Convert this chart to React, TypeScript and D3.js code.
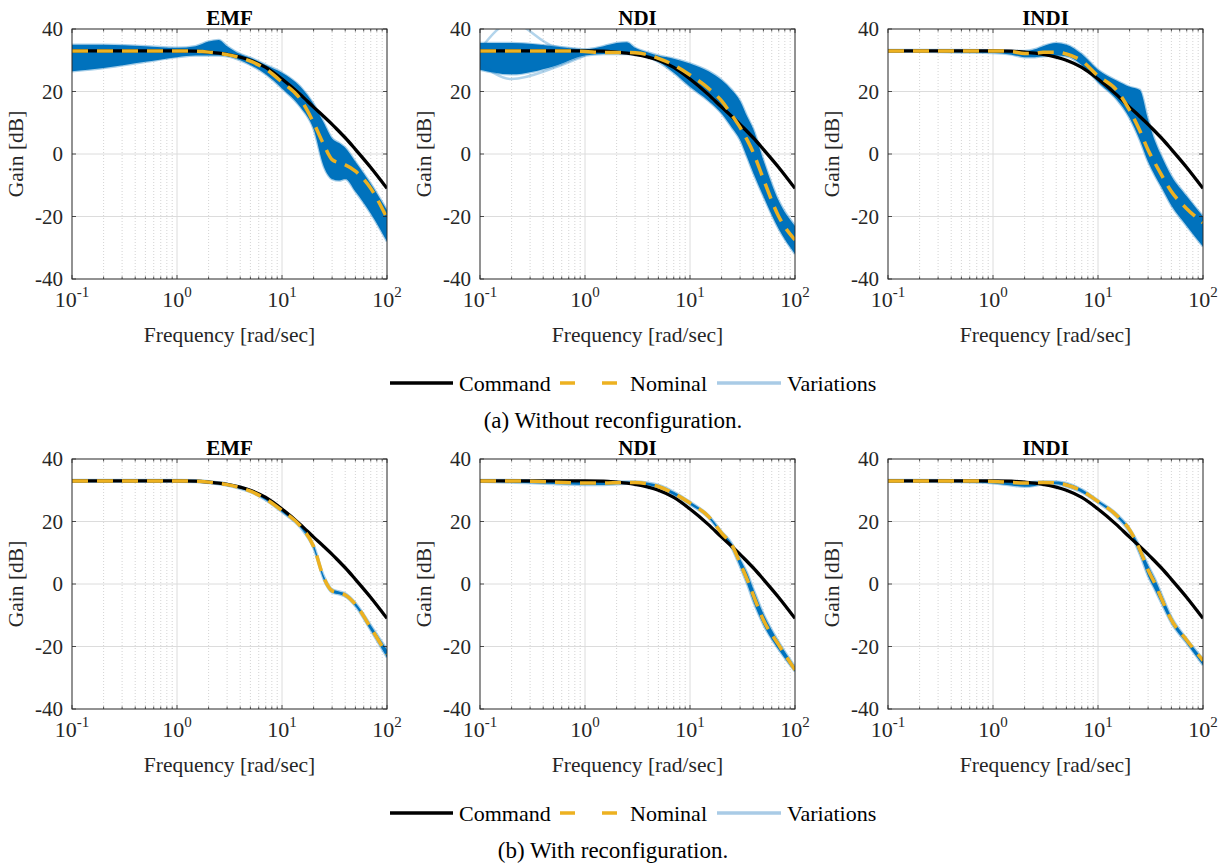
import React, { useEffect, useRef } from 'react';
import * as d3 from 'd3';

// frequency grid [rad/sec] shared by every curve
const freqs = [0.1, 0.2, 0.5, 1, 1.5, 2, 2.5, 3, 4, 5, 7, 10, 15, 20, 25, 30, 35, 40, 50, 70, 100];

// command model (same in all panels)
const command = [33, 33, 33, 33, 32.9, 32.6, 32.3, 31.9, 31, 30, 27.7, 24, 19, 15, 12, 9.5, 7.2, 5.2, 1.5, -4.3, -11];

// (a) without reconfiguration
const emfNomA = [33, 33, 33, 33, 32.9, 32.6, 32.2, 31.8, 30.8, 29.7, 27.2, 23, 17.5, 10, 3, -1.8, -2.8, -3.5, -5.5, -11, -20.5];
const emfHiA = [35, 35, 34.5, 34, 34.5, 36, 36.5, 34.5, 32, 30.8, 28.5, 26, 21.5, 16, 10, 5, 3.5, 2, -2.5, -9.5, -18];
const emfLoA = [26.5, 27.5, 29.5, 31, 31.5, 31.5, 31.5, 31.3, 30, 28.5, 25.5, 21, 15, 8, -4, -8, -8.5, -8, -12, -19, -28];

const ndiNomA = [33, 33, 33, 32.8, 32.5, 32.5, 32.5, 32.4, 31.7, 30.6, 28.5, 25.3, 21, 17, 12.5, 8.5, 4.5, 0.5, -8, -20, -27.5];
const ndiHiA = [35.5, 35.5, 34.5, 33.5, 34.5, 35.5, 35.8, 34, 32.5, 31.5, 30.5, 29, 26.5, 23.7, 20.5, 17, 12, 8, -2, -15, -23];
const ndiLoA = [27, 25.5, 28, 31.5, 32, 32, 32, 31.8, 31, 29.5, 26, 21.5, 17, 13, 8.5, 4.5, -1, -6, -13.5, -24, -32];
const ndiOutHiA = [33.5, 42, 34.5, 33.2];
const ndiOutLoA = [29, 24, 27.5, 31.5];

const indiNomA = [33, 33, 33, 33, 32.8, 32.2, 32.2, 32.6, 32.6, 32, 29.8, 25, 20.5, 14, 7.5, 1.3, -3, -6.5, -12, -17.5, -22];
const indiHiA = [33.3, 33.3, 33.3, 33.2, 33, 33, 33.5, 34.5, 35.5, 35, 32, 27, 23.5, 21.5, 20.5, 11, 4, -0.5, -7, -13.5, -20];
const indiLoA = [32.7, 32.7, 32.5, 32.3, 31.8, 31, 31, 31.3, 31.5, 31.3, 28.5, 23, 17.5, 11.5, 4.5, -2.5, -7, -10.5, -16.5, -23, -29.6];

// (b) with reconfiguration
const emfNomB = [33, 33, 33, 33, 32.9, 32.6, 32.2, 31.8, 30.8, 29.7, 27.2, 23.5, 18.5, 12, 2, -2.2, -2.8, -3.5, -6.5, -14, -22.5];
const emfHiB = [33.3, 33.3, 33.3, 33.3, 33.2, 32.9, 32.5, 32.1, 31.1, 30, 27.5, 23.8, 18.9, 12.5, 2.6, -1.7, -2.4, -3, -6, -13.2, -21];
const emfLoB = [32.7, 32.7, 32.7, 32.7, 32.6, 32.3, 31.9, 31.5, 30.5, 29.4, 26.8, 23, 18, 11.4, 1.4, -2.7, -3.3, -4, -7.1, -14.8, -23.5];

const ndiNomB = [33, 33, 32.6, 32.3, 32.3, 32.4, 32.5, 32.5, 32, 31.2, 29, 25.9, 21.6, 16.3, 12.5, 6.7, 1.5, -3.5, -11.5, -19.5, -27.5];
const ndiHiB = [33.3, 33.3, 33, 32.7, 32.7, 32.8, 32.8, 32.8, 32.4, 31.7, 29.5, 26.3, 22, 16.8, 13, 8, 3.5, -1.5, -9.5, -18.5, -26.5];
const ndiLoB = [32.7, 32.5, 32, 31.7, 31.7, 31.9, 32.1, 32.1, 31.6, 30.7, 28.5, 25.4, 21.2, 15.8, 11.5, 5.5, 0, -5.5, -13, -21, -28];

const indiNomB = [33, 33, 33, 32.8, 32.5, 32.3, 32.4, 32.5, 32.3, 31.7, 29.8, 26.4, 22, 17.3, 11, 4.5, 0, -4.5, -11.5, -18, -24.5];
const indiHiB = [33.3, 33.3, 33.2, 33, 32.8, 32.6, 32.7, 32.8, 32.8, 32.3, 30.3, 26.8, 22.5, 17.8, 12, 6, 1.5, -3, -10.5, -17.5, -24];
const indiLoB = [32.7, 32.7, 32.6, 32.2, 31.5, 31.1, 31.4, 32, 31.9, 31.2, 29.3, 26, 21.5, 16.5, 9.5, 2.5, -2, -6, -12.5, -19, -26];

const titles = ['EMF', 'NDI', 'INDI'];
const yTicks = [-40, -20, 0, 20, 40];
const xDecades = [-1, 0, 1, 2];
const legendLabels = ['Command', 'Nominal', 'Variations'];
const captions = ['(a) Without reconfiguration.', '(b) With reconfiguration.'];

const BLUE = '#0072BD';
const LIGHTBLUE = '#A9CBE6';
const YELLOW = '#EDB120';
const AXIS = '#262626';
const FONT = 'Liberation Serif';

export default function App() {
    const svgRef = useRef(null);

    const width = 1226;
    const height = 865;

    const panelLefts = [72, 480, 888];
    const panelW = 315;
    const panelH = 250;
    const rowTops = [29, 459];

    const rows = [
        [
            { nom: emfNomA, hi: emfHiA, lo: emfLoA },
            { nom: ndiNomA, hi: ndiHiA, lo: ndiLoA, outHi: ndiOutHiA, outLo: ndiOutLoA },
            { nom: indiNomA, hi: indiHiA, lo: indiLoA },
        ],
        [
            { nom: emfNomB, hi: emfHiB, lo: emfLoB },
            { nom: ndiNomB, hi: ndiHiB, lo: ndiLoB },
            { nom: indiNomB, hi: indiHiB, lo: indiLoB },
        ],
    ];

    const render = () => {
        const svg = d3.select(svgRef.current)
            .attr('width', width)
            .attr('height', height);
        svg.selectAll('*').remove();

        const xScale = d3.scaleLog().domain([0.1, 100]).range([0, panelW]);
        const yScale = d3.scaleLinear().domain([-40, 40]).range([panelH, 0]);

        const line = d3.line()
            .x(d => xScale(d[0]))
            .y(d => yScale(d[1]))
            .curve(d3.curveMonotoneX);

        const area = d3.area()
            .x(d => xScale(d[0]))
            .y0(d => yScale(d[1]))
            .y1(d => yScale(d[2]))
            .curve(d3.curveMonotoneX);

        const minorTicks = [];
        for (let e = -1; e < 2; e++) {
            for (let m = 2; m <= 9; m++) minorTicks.push(m * Math.pow(10, e));
        }

        rows.forEach((row, ri) => {
            row.forEach((p, ci) => {
                const g = svg.append('g')
                    .attr('transform', `translate(${panelLefts[ci]}, ${rowTops[ri]})`);

                const clipId = `clip-${ri}-${ci}`;
                g.append('clipPath').attr('id', clipId)
                    .append('rect').attr('width', panelW).attr('height', panelH);

                g.append('rect').attr('width', panelW).attr('height', panelH).attr('fill', 'white');

                // grid
                g.selectAll('.minor').data(minorTicks).enter().append('line')
                    .attr('x1', d => xScale(d)).attr('x2', d => xScale(d))
                    .attr('y1', 0).attr('y2', panelH)
                    .attr('stroke', '#c8c8c8').attr('stroke-width', 0.8)
                    .attr('stroke-dasharray', '1,2');
                g.selectAll('.majx').data([1, 10]).enter().append('line')
                    .attr('x1', d => xScale(d)).attr('x2', d => xScale(d))
                    .attr('y1', 0).attr('y2', panelH)
                    .attr('stroke', '#dcdcdc').attr('stroke-width', 1);
                g.selectAll('.majy').data([-20, 0, 20]).enter().append('line')
                    .attr('x1', 0).attr('x2', panelW)
                    .attr('y1', d => yScale(d)).attr('y2', d => yScale(d))
                    .attr('stroke', '#dcdcdc').attr('stroke-width', 1);

                const plot = g.append('g').attr('clip-path', `url(#${clipId})`);

                // variations band
                const band = freqs.map((f, i) => [f, p.lo[i], p.hi[i]]);
                plot.append('path').datum(band)
                    .attr('d', area)
                    .attr('fill', BLUE);
                [p.hi, p.lo].forEach(edge => {
                    plot.append('path').datum(freqs.map((f, i) => [f, edge[i]]))
                        .attr('d', line)
                        .attr('fill', 'none')
                        .attr('stroke', BLUE).attr('stroke-opacity', 0.35)
                        .attr('stroke-width', 2.5);
                });
                [p.outHi, p.outLo].forEach(out => {
                    if (!out) return;
                    plot.append('path').datum(out.map((v, i) => [freqs[i], v]))
                        .attr('d', line)
                        .attr('fill', 'none')
                        .attr('stroke', BLUE).attr('stroke-opacity', 0.3)
                        .attr('stroke-width', 2.5);
                });

                // command
                plot.append('path').datum(freqs.map((f, i) => [f, command[i]]))
                    .attr('d', line)
                    .attr('fill', 'none')
                    .attr('stroke', 'black')
                    .attr('stroke-width', 3.3);

                // nominal
                plot.append('path').datum(freqs.map((f, i) => [f, p.nom[i]]))
                    .attr('d', line)
                    .attr('fill', 'none')
                    .attr('stroke', YELLOW)
                    .attr('stroke-width', 3.5)
                    .attr('stroke-dasharray', '16,9');

                // ticks inside
                const tk = g.append('g').attr('stroke', AXIS).attr('stroke-width', 0.8);
                minorTicks.forEach(t => {
                    tk.append('line').attr('x1', xScale(t)).attr('x2', xScale(t)).attr('y1', panelH).attr('y2', panelH - 2.5);
                    tk.append('line').attr('x1', xScale(t)).attr('x2', xScale(t)).attr('y1', 0).attr('y2', 2.5);
                });
                xDecades.forEach(e => {
                    const x = xScale(Math.pow(10, e));
                    tk.append('line').attr('x1', x).attr('x2', x).attr('y1', panelH).attr('y2', panelH - 4);
                    tk.append('line').attr('x1', x).attr('x2', x).attr('y1', 0).attr('y2', 4);
                });
                yTicks.forEach(v => {
                    tk.append('line').attr('x1', 0).attr('x2', 4).attr('y1', yScale(v)).attr('y2', yScale(v));
                    tk.append('line').attr('x1', panelW).attr('x2', panelW - 4).attr('y1', yScale(v)).attr('y2', yScale(v));
                });

                g.append('rect').attr('width', panelW).attr('height', panelH)
                    .attr('fill', 'none').attr('stroke', AXIS).attr('stroke-width', 1);

                // tick labels
                g.selectAll('.ylab').data(yTicks).enter().append('text')
                    .attr('x', -9).attr('y', d => yScale(d) + 7)
                    .attr('text-anchor', 'end')
                    .attr('font-size', 21)
                    .attr('fill', AXIS)
                    .text(d => d);

                xDecades.forEach(e => {
                    const t = g.append('text')
                        .attr('x', xScale(Math.pow(10, e)))
                        .attr('y', panelH + 28)
                        .attr('text-anchor', 'middle')
                        .attr('font-size', 22)
                        .attr('fill', AXIS);
                    t.append('tspan').text('10');
                    t.append('tspan').attr('dy', -10).attr('font-size', 15).text(e);
                });

                g.append('text')
                    .attr('x', panelW / 2).attr('y', panelH + 63)
                    .attr('text-anchor', 'middle')
                    .attr('font-size', 21.5)
                    .attr('fill', AXIS)
                    .text('Frequency [rad/sec]');

                g.append('text')
                    .attr('transform', `translate(-49, ${panelH / 2}) rotate(-90)`)
                    .attr('text-anchor', 'middle')
                    .attr('font-size', 21.5)
                    .attr('fill', AXIS)
                    .text('Gain [dB]');

                g.append('text')
                    .attr('x', panelW / 2).attr('y', -4)
                    .attr('text-anchor', 'middle')
                    .attr('font-size', 21)
                    .attr('font-weight', 'bold')
                    .attr('fill', 'black')
                    .text(titles[ci]);
            });

            // legend + caption
            const ly = rowTops[ri] + 354;
            const lg = svg.append('g').attr('transform', `translate(0, ${ly})`);
            lg.append('line').attr('x1', 390).attr('x2', 453).attr('y1', 0).attr('y2', 0)
                .attr('stroke', 'black').attr('stroke-width', 3.5);
            lg.append('line').attr('x1', 560).attr('x2', 617).attr('y1', 0).attr('y2', 0)
                .attr('stroke', YELLOW).attr('stroke-width', 3.5).attr('stroke-dasharray', '15,27');
            lg.append('line').attr('x1', 717).attr('x2', 781).attr('y1', 0).attr('y2', 0)
                .attr('stroke', LIGHTBLUE).attr('stroke-width', 3.5);
            [459, 630, 787].forEach((x, i) => {
                lg.append('text').attr('x', x).attr('y', 7.5)
                    .attr('font-size', 22)
                    .attr('fill', 'black')
                    .text(legendLabels[i]);
            });

            svg.append('text')
                .attr('x', 613).attr('y', rowTops[ri] + 399)
                .attr('text-anchor', 'middle')
                .attr('font-size', 23)
                .attr('fill', 'black')
                .text(captions[ri]);
        });
    };

    useEffect(() => {
        render();
    });

    return (
        <svg ref={svgRef} style={{ position: 'absolute', left: 0, top: 0, background: 'white', fontFamily: FONT }}></svg>
    );
}
